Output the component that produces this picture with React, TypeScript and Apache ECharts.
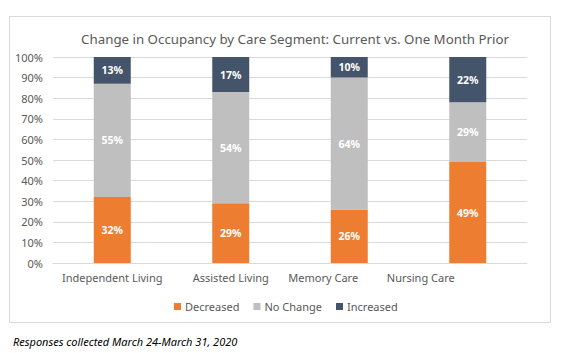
import React, { useEffect, useRef } from "react";
import * as echarts from "echarts";

const categories = ["Independent Living", "Assisted Living", "Memory Care", "Nursing Care"];
const decreased = [32, 29, 26, 49];
const noChange = [55, 54, 64, 29];
const increased = [13, 17, 10, 22];
const seriesNames = ["Decreased", "No Change", "Increased"];
const colors = ["#ED7D31", "#BFBFBF", "#44546A"];
const labelShift = [0, 0, 52, 94];
const title = "Change in Occupancy by Care Segment: Current vs. One Month Prior";
const footnote = "Responses collected March 24-March 31, 2020";

const FONT = "'Noto Sans', sans-serif";

export default function App() {
  const ref = useRef<HTMLDivElement>(null);
  useEffect(() => {
    const chart = echarts.init(ref.current!, null, { renderer: "svg" });
    const rich: any = {};
    categories.forEach((_, i) => {
      rich["c" + i] = {
        color: "#595959",
        fontSize: 11,
        fontFamily: FONT,
        padding: [0, labelShift[i], 0, 0],
      };
    });
    const values = [decreased, noChange, increased];
    chart.setOption({
      animation: false,
      title: {
        text: title,
        left: 290,
        textAlign: "center",
        top: 27,
        textStyle: { color: "#595959", fontSize: 13.3, fontWeight: "normal", fontFamily: FONT },
      },
      grid: { left: 53, right: 38, top: 57, bottom: 90 },
      legend: {
        data: seriesNames,
        left: 169,
        top: 296,
        itemWidth: 7,
        itemHeight: 7,
        itemGap: 14,
        icon: "rect",
        textStyle: { color: "#595959", fontSize: 11, fontFamily: FONT, padding: [0, 0, 0, -1] },
      },
      xAxis: {
        type: "category",
        data: categories,
        axisLine: { lineStyle: { color: "#d9d9d9" } },
        axisTick: { show: false },
        axisLabel: {
          interval: 0,
          hideOverlap: false,
          margin: 9,
          formatter: (v: string) => {
            const i = categories.indexOf(v);
            return "{c" + i + "|" + v + "}";
          },
          rich,
        },
      },
      yAxis: {
        type: "value",
        min: 0,
        max: 100,
        interval: 10,
        axisLine: { show: false },
        axisTick: { show: false },
        splitLine: { lineStyle: { color: "#d9d9d9" } },
        axisLabel: {
          formatter: "{value}%",
          color: "#595959",
          fontSize: 11,
          fontFamily: FONT,
          margin: 10,
        },
      },
      series: seriesNames.map((name, k) => ({
        name,
        type: "bar",
        stack: "total",
        barWidth: 37,
        data: values[k],
        itemStyle: { color: colors[k] },
        label: {
          show: true,
          position: "inside",
          formatter: "{c}%",
          color: "#ffffff",
          fontSize: 10.5,
          fontWeight: "bold",
          fontFamily: FONT,
        },
      })),
      graphic: [
        {
          type: "rect",
          shape: { x: 9.5, y: 16.5, width: 541, height: 306 },
          style: { fill: "none", stroke: "#d9d9d9", lineWidth: 1 },
          silent: true,
        },
        {
          type: "text",
          x: 13,
          y: 341,
          style: {
            text: footnote,
            fill: "#000000",
            fontSize: 11,
            fontStyle: "italic",
            fontFamily: FONT,
            verticalAlign: "middle",
          },
        },
      ],
    });
    return () => chart.dispose();
  }, []);
  return <div ref={ref} style={{ position: "absolute", left: 0, top: 0, width: 565, height: 353 }} />;
}
